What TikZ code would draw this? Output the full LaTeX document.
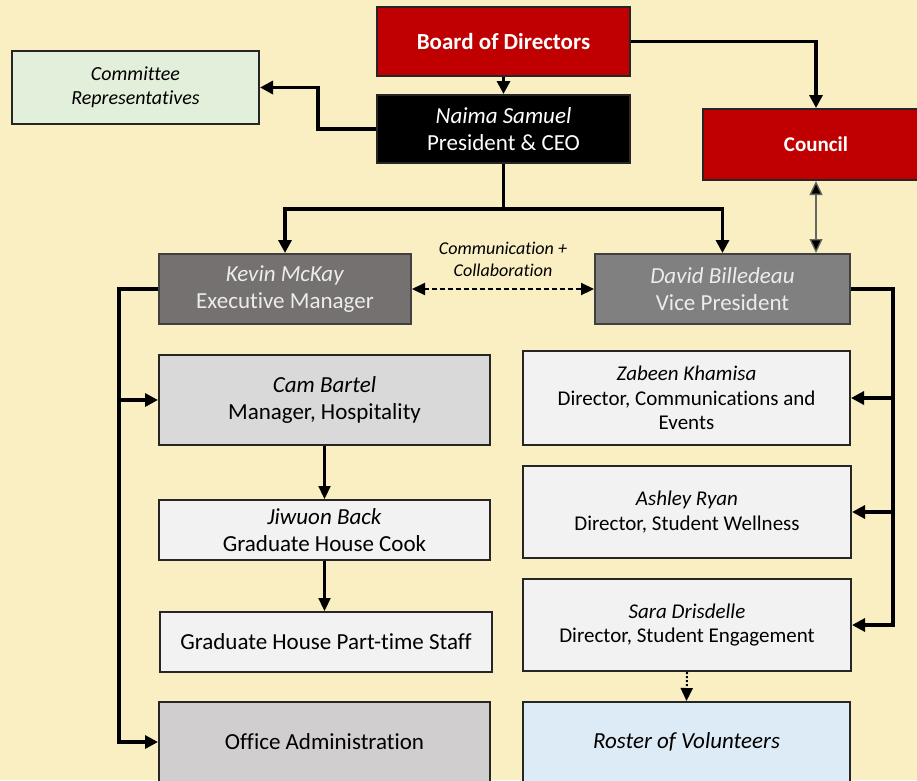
\documentclass[tikz,border=0pt]{standalone}
\usepackage{fontspec}
\setmainfont{Carlito}[Ligatures=CommonOff]
\usepackage{xcolor}
\usetikzlibrary{arrows.meta}

\definecolor{bgyellow}{RGB}{250,238,195}
\definecolor{boardred}{RGB}{192,0,0}
\definecolor{mgrgray}{RGB}{118,113,113}
\definecolor{vpgray}{RGB}{128,128,128}
\definecolor{textgray}{RGB}{236,236,236}
\definecolor{hospgray}{RGB}{217,217,217}
\definecolor{palegray}{RGB}{242,242,242}
\definecolor{officegray}{RGB}{208,206,206}
\definecolor{palegreen}{RGB}{226,239,218}
\definecolor{paleblue}{RGB}{221,235,247}

\begin{document}
\begin{tikzpicture}[x=1pt, y=-1pt,
  box/.style = {shape=rectangle, draw=black!85, line width=2pt,
    align=center, inner sep=2pt,
    font=\fontsize{23}{27}\selectfont},
  redbox/.style = {box, fill=boardred, text=white,
    font=\bfseries\fontsize{23}{27}\selectfont},
  greybox/.style = {box, text=textgray, draw=black!75},
  dirbox/.style = {box, fill=palegray, minimum width=327pt,
    font=\fontsize{21}{24.5}\selectfont},
  link/.style = {line width=3.2pt, -{Triangle[length=13pt,width=13pt]}},
  sublink/.style = {line width=2.2pt, -{Triangle[length=13pt,width=12pt]}},
  trunk/.style = {line width=3.2pt}]

  % background
  \fill[bgyellow] (0,0) rectangle (917,780);
  \useasboundingbox (0,0) rectangle (917,780);

  % top level
  \node[redbox, minimum width=253pt, minimum height=69pt] (board) at (503.5,41.5) {Board of Directors};
  \node[box, fill=black, text=white, minimum width=253pt, minimum height=68pt] (ceo) at (503.5,129)
    {\textit{Naima Samuel}\\President \& CEO};
  \node[box, fill=palegreen, minimum width=247pt, minimum height=73pt,
    font=\itshape\fontsize{20}{24}\selectfont] (committee) at (135.5,87.5)
    {Committee\\Representatives};
  \node[redbox, minimum width=226pt, minimum height=71pt,
    font=\bfseries\fontsize{21}{25}\selectfont] (council) at (816,144.5) {Council};

  % managers
  \node[greybox, fill=mgrgray, minimum width=252pt, minimum height=70pt] (kevin) at (285,289)
    {\textit{Kevin McKay}\\Executive Manager};
  \node[greybox, fill=vpgray, minimum width=255pt, minimum height=70pt] (david) at (722.5,289)
    {\textit{David Billedeau}\\Vice President};

  % left column
  \node[box, fill=hospgray, minimum width=331pt, minimum height=90pt] (cam) at (324.5,400)
    {\textit{Cam Bartel}\\Manager, Hospitality};
  \node[box, fill=palegray, minimum width=331pt, minimum height=60pt] (cook) at (324.5,530)
    {\textit{Jiwuon Back}\\Graduate House Cook};
  \node[box, fill=palegray, minimum width=332pt, minimum height=60pt] (staff) at (326,642)
    {Graduate House Part-time Staff};
  \node[box, fill=officegray, minimum width=331pt, minimum height=80pt] (office) at (324.5,742)
    {Office Administration};

  % right column
  \node[dirbox, minimum height=94pt] (zabeen) at (686.5,398)
    {\textit{Zabeen Khamisa}\\Director, Communications and\\Events};
  \node[dirbox, minimum width=328pt, minimum height=92pt] (ashley) at (687,512)
    {\textit{Ashley Ryan}\\Director, Student Wellness};
  \node[dirbox, minimum width=328pt, minimum height=92pt] (sara) at (687,625)
    {\textit{Sara Drisdelle}\\Director, Student Engagement};
  \node[box, fill=paleblue, minimum width=327pt, minimum height=80pt,
    font=\itshape\fontsize{23}{27}\selectfont] (roster) at (686.5,742) {Roster of Volunteers};

  % connectors
  \coordinate (split) at (503.5,209);
  \coordinate (kleft) at (119,289);
  \coordinate (dright) at (893,289);

  \draw[link] (board) -- (ceo);
  \draw[link] (board.east) -| (council.north);
  \draw[link] (ceo.west) -- ++(-58,0) |- (committee.east);
  \draw[trunk] (ceo.south) -- (split);
  \draw[link] (split) -| (kevin.north);
  \draw[link] (split) -| (david.north);
  \draw[line width=1.3pt, draw=black!60,
    {Triangle[length=14pt,width=13pt,fill=black]}-{Triangle[length=14pt,width=13pt,fill=black]}]
    (council.south) -- (council.south |- david.north);
  \draw[line width=2.2pt, dash pattern=on 5pt off 3pt,
    {Triangle[length=13pt,width=12pt]}-{Triangle[length=13pt,width=12pt]}]
    (kevin.east) -- node[above=8pt, align=center, font=\itshape\fontsize{18}{22}\selectfont]
    {Communication +\\Collaboration} (david.west);

  \draw[link] (kevin.west) -- (kleft) |- (office.west);
  \draw[link] (kleft |- cam.west) -- (cam.west);
  \draw[sublink] (cam.south) -- (cook.north);
  \draw[sublink] (cook.south) -- (cook.south |- staff.north);

  \draw[link] (david.east) -- (dright) |- (sara.east);
  \draw[link] (dright |- zabeen.east) -- (zabeen.east);
  \draw[link] (dright |- ashley.east) -- (ashley.east);
  \draw[line width=2pt, dotted, -{Triangle[length=13pt,width=12pt]}] (sara.south) -- (roster.north);
\end{tikzpicture}
\end{document}
